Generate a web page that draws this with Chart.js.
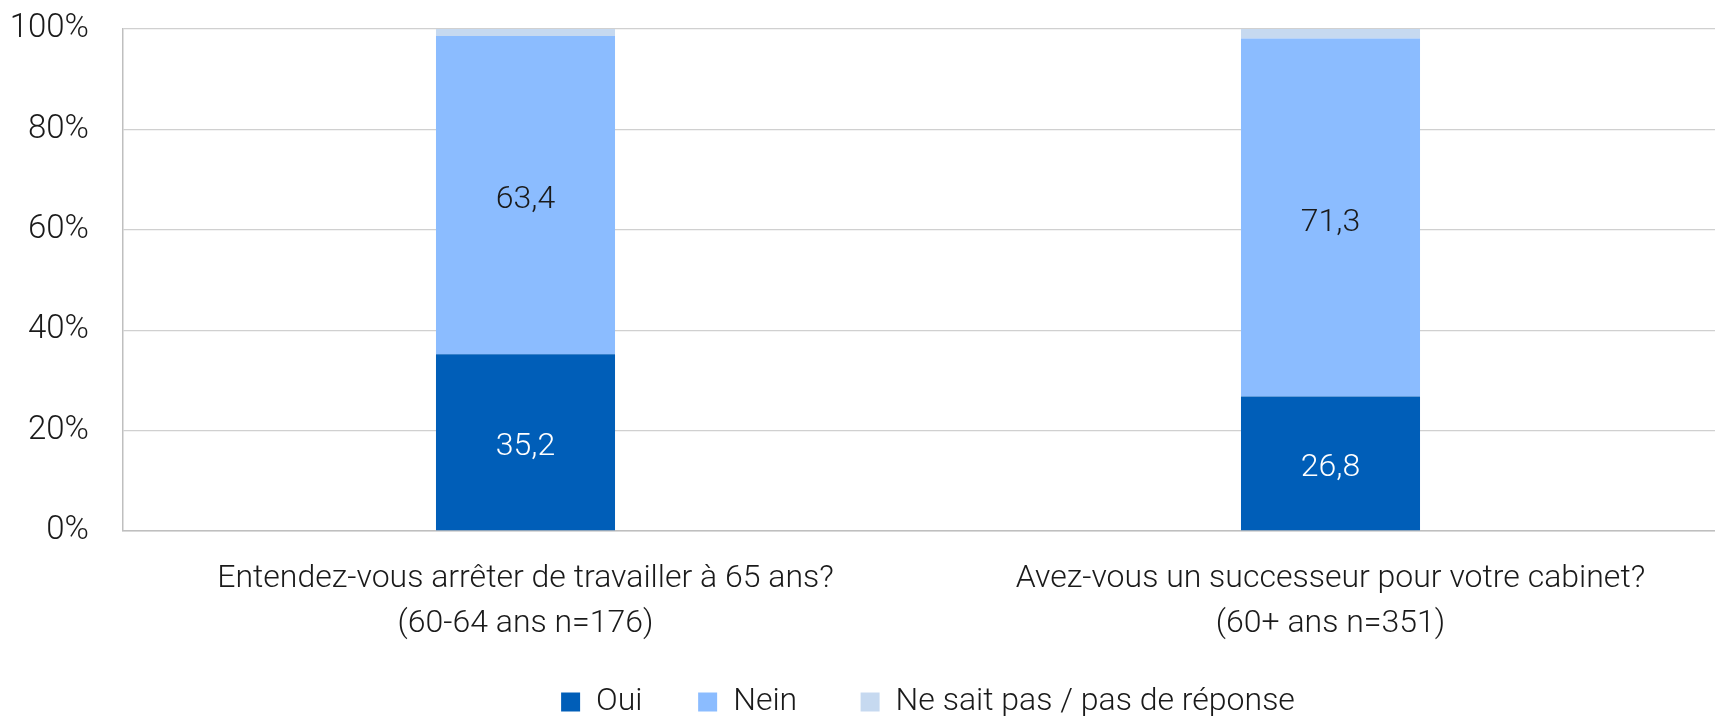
<!DOCTYPE html>
<html lang="fr">
<head>
<meta charset="utf-8">
<title>Départ à la retraite et succession</title>
<script src="https://cdn.jsdelivr.net/npm/chart.js@4/dist/chart.umd.min.js"></script>
<style>
  html, body { margin: 0; padding: 0; background: #fff; overflow: hidden; }
  #wrap { position: relative; width: 1735px; height: 717px; }
</style>
</head>
<body>
<div id="wrap"><canvas id="chart"></canvas></div>
<script>
// questions (x axis), two lines each
const categories = [
  ["Entendez-vous arrêter de travailler à 65 ans?", "(60-64 ans n=176)"],
  ["Avez-vous un successeur pour votre cabinet?", "(60+ ans n=351)"]
];
const seriesNames = ["Oui", "Nein", "Ne sait pas / pas de réponse"];
const oui = [35.2, 26.8];
const nein = [63.4, 71.3];
const nsp = [1.4, 1.9];
const yTicks = [0, 20, 40, 60, 80, 100];

const FONT = "Roboto, 'Liberation Sans', sans-serif";
const TEXT = "#1a1a1a";

// value labels in the middle of the Oui / Nein segments
const valueLabels = {
  id: "valueLabels",
  afterDatasetsDraw(chart) {
    const ctx = chart.ctx;
    ctx.save();
    ctx.font = "300 32px " + FONT;
    ctx.textAlign = "center";
    ctx.textBaseline = "middle";
    [0, 1].forEach(di => {
      const meta = chart.getDatasetMeta(di);
      const ds = chart.data.datasets[di];
      meta.data.forEach((bar, i) => {
        const p = bar.getCenterPoint();
        ctx.fillStyle = di === 0 ? "#ffffff" : TEXT;
        ctx.fillText(ds.data[i].toFixed(1).replace(".", ","), p.x, p.y + 5);
      });
    });
    ctx.restore();
  }
};

new Chart(document.getElementById("chart"), {
  type: "bar",
  data: {
    labels: categories,
    datasets: [
      { label: seriesNames[0], data: oui, backgroundColor: "#005eb8" },
      { label: seriesNames[1], data: nein, backgroundColor: "#8bbcff" },
      { label: seriesNames[2], data: nsp, backgroundColor: "#c6d9f0" }
    ]
  },
  options: {
    responsive: true,
    maintainAspectRatio: false,
    animation: false,
    layout: { padding: { top: 29, right: 2, left: 0, bottom: 0 } },
    datasets: {
      bar: { categoryPercentage: 1, barPercentage: 0.2224, borderWidth: 0 }
    },
    scales: {
      x: {
        stacked: true,
        afterFit(scale) { scale.height = 115; },
        grid: { display: false, drawTicks: false },
        border: { display: true, color: "#bfbfbf", width: 1.5 },
        ticks: {
          color: TEXT,
          padding: 26,
          maxRotation: 0,
          autoSkip: false,
          font: { family: FONT, size: 32, weight: 300, lineHeight: 1.4 }
        }
      },
      y: {
        stacked: true,
        min: 0,
        max: 100,
        afterBuildTicks(scale) {
          scale.ticks = yTicks.map(v => ({ value: v }));
        },
        afterFit(scale) { scale.width = 123; },
        grid: {
          color: "#d0d0d0",
          lineWidth: 1.3,
          drawTicks: true,
          tickLength: 34,
          tickColor: "rgba(0,0,0,0)"
        },
        border: { display: true, color: "#bfbfbf", width: 1.5 },
        ticks: {
          color: TEXT,
          padding: 0,
          callback: v => v + "%",
          font: { family: FONT, size: 33, weight: 300 }
        }
      }
    },
    plugins: {
      tooltip: { enabled: false },
      legend: {
        position: "bottom",
        fullSize: false,
        maxHeight: 71,
        labels: {
          color: TEXT,
          boxWidth: 19,
          boxHeight: 19,
          padding: 40,
          font: { family: FONT, size: 32, weight: 300 },
          // a little extra room after the first two entries
          generateLabels(chart) {
            const items = Chart.defaults.plugins.legend.labels.generateLabels(chart);
            const extra = [2, 3];
            items.forEach((it, i) => {
              if (i < 2) it.text = it.text + "\u00a0".repeat(extra[i]);
            });
            return items;
          }
        }
      }
    }
  },
  plugins: [valueLabels]
});
</script>
</body>
</html>
